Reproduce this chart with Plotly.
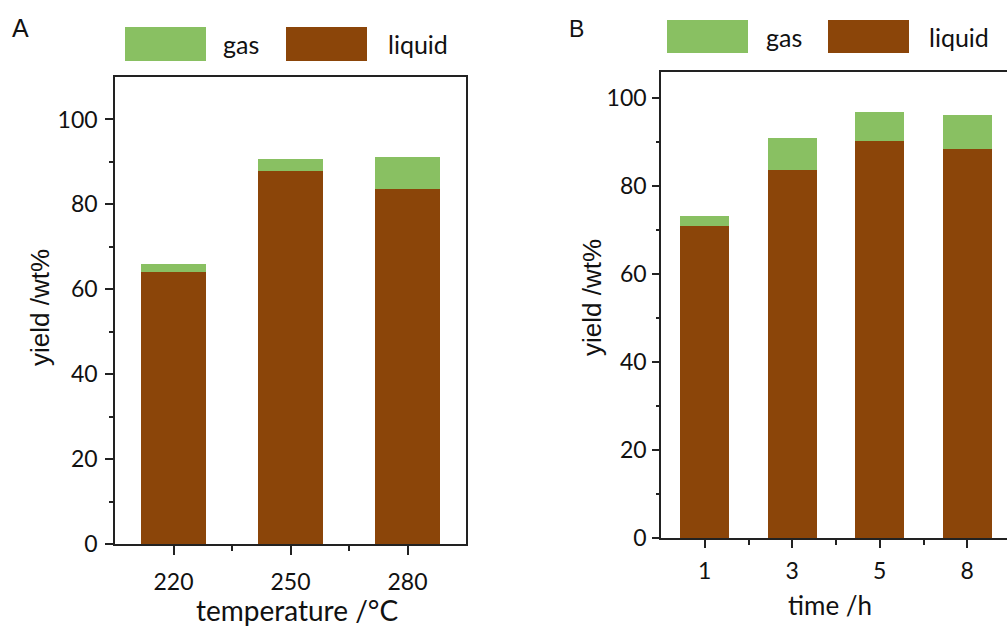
import plotly.graph_objects as go

# ---------------- data ----------------
temp_categories = ["220", "250", "280"]
temp_liquid = [64.1, 87.8, 83.7]
temp_gas = [1.9, 2.8, 7.5]

time_categories = ["1", "3", "5", "8"]
time_liquid = [71.0, 83.7, 90.3, 88.4]
time_gas = [2.2, 7.4, 6.6, 7.9]

gas_color = "#89C062"
liquid_color = "#8B4509"

W, H = 1007, 628
def px(x):
    return x / W
def py(y):
    return 1 - y / H

TICK_FONT = dict(family="Lato", size=23, color="#111")
AX = "#222"

fig = go.Figure()

# Panel A
fig.add_trace(go.Bar(x=list(range(len(temp_categories))), y=temp_liquid, marker_color=liquid_color,
                     width=0.56, name="liquid", showlegend=False, xaxis="x", yaxis="y",
                     marker_line_width=0))
fig.add_trace(go.Bar(x=list(range(len(temp_categories))), y=temp_gas, marker_color=gas_color,
                     width=0.56, name="gas", showlegend=False, xaxis="x", yaxis="y",
                     marker_line_width=0))
# Panel B
fig.add_trace(go.Bar(x=list(range(len(time_categories))), y=time_liquid, marker_color=liquid_color,
                     width=0.56, name="liquid", showlegend=False, xaxis="x2", yaxis="y2",
                     marker_line_width=0))
fig.add_trace(go.Bar(x=list(range(len(time_categories))), y=time_gas, marker_color=gas_color,
                     width=0.56, name="gas", showlegend=False, xaxis="x2", yaxis="y2",
                     marker_line_width=0))

common_axis = dict(showgrid=False, zeroline=False, showline=True, linecolor=AX, linewidth=1.5,
                   ticks="outside", tickcolor=AX, tickwidth=1.5, tickfont=TICK_FONT,
                   automargin=False)

fig.update_layout(
    width=W, height=H,
    margin=dict(l=0, r=0, t=0, b=0, autoexpand=False),
    paper_bgcolor="white", plot_bgcolor="white",
    barmode="stack",
    xaxis=dict(**common_axis, domain=[px(115), px(466)], range=[-0.5, 2.5], anchor="y",
               tickvals=list(range(len(temp_categories))), ticktext=temp_categories,
               ticklen=9, mirror=True, ticklabelstandoff=8,
               minor=dict(tickvals=[0.5, 1.5], ticklen=5, ticks="outside", tickcolor=AX, tickwidth=1.5)),
    yaxis=dict(**common_axis, domain=[py(544), py(77)], range=[0, 110], anchor="x",
               tickvals=[0, 20, 40, 60, 80, 100], ticklen=8, mirror=True, ticklabelstandoff=3,
               minor=dict(tickvals=[10, 30, 50, 70, 90], ticklen=4, ticks="outside", tickcolor=AX, tickwidth=1.5)),
    xaxis2=dict(**common_axis, domain=[px(661), 1.0], range=[-0.5, 3.454], anchor="y2",
                tickvals=list(range(len(time_categories))), ticktext=time_categories,
                ticklen=8, mirror=True, ticklabelstandoff=4,
                minor=dict(tickvals=[0.5, 1.5, 2.5], ticklen=5, ticks="outside", tickcolor=AX, tickwidth=1.5)),
    yaxis2=dict(**common_axis, domain=[py(538), py(72)], range=[0, 106], anchor="x2",
                tickvals=[0, 20, 40, 60, 80, 100], ticklen=7, mirror=False, ticklabelstandoff=1,
                minor=dict(tickvals=[10, 30, 50, 70, 90], ticklen=3, ticks="outside", tickcolor=AX, tickwidth=1.5)),
)

shapes = []
annotations = []

def legend(gx0, gx1, gas_tx, bx0, bx1, liq_tx, y0, y1):
    shapes.append(dict(type="rect", xref="paper", yref="paper", x0=px(gx0), x1=px(gx1),
                       y0=py(y1), y1=py(y0), fillcolor=gas_color, line_width=0))
    shapes.append(dict(type="rect", xref="paper", yref="paper", x0=px(bx0), x1=px(bx1),
                       y0=py(y1), y1=py(y0), fillcolor=liquid_color, line_width=0))
    ym = (y0 + y1) / 2
    annotations.append(dict(text="gas", xref="paper", yref="paper", x=px(gas_tx), y=py(ym),
                            xanchor="left", yanchor="middle", showarrow=False,
                            font=dict(family="Lato", size=25, color="#111")))
    annotations.append(dict(text="liquid", xref="paper", yref="paper", x=px(liq_tx), y=py(ym),
                            xanchor="left", yanchor="middle", showarrow=False,
                            font=dict(family="Lato", size=25, color="#111")))

legend(125, 206, 221, 286, 367, 386, 27, 61)
legend(667, 748, 764, 828, 909, 927, 20, 53)

# panel labels
annotations.append(dict(text="A", xref="paper", yref="paper", x=px(10), y=py(28), xanchor="left",
                        yanchor="middle", showarrow=False,
                        font=dict(family="Liberation Sans", size=25, color="#111")))
annotations.append(dict(text="B", xref="paper", yref="paper", x=px(567), y=py(29), xanchor="left",
                        yanchor="middle", showarrow=False,
                        font=dict(family="Liberation Sans", size=23, color="#111")))

# axis titles
annotations.append(dict(text="temperature /°C", xref="paper", yref="paper", x=px(297), y=py(610),
                        xanchor="center", yanchor="middle", showarrow=False,
                        font=dict(family="Lato", size=28, color="#111")))
annotations.append(dict(text="time /h", xref="paper", yref="paper", x=px(830), y=py(605),
                        xanchor="center", yanchor="middle", showarrow=False,
                        font=dict(family="Lato", size=26, color="#111")))
annotations.append(dict(text="yield /wt%", xref="paper", yref="paper", x=px(40), y=py(308),
                        xanchor="center", yanchor="middle", showarrow=False, textangle=-90,
                        font=dict(family="Liberation Sans", size=26, color="#111")))
annotations.append(dict(text="yield /wt%", xref="paper", yref="paper", x=px(592), y=py(298),
                        xanchor="center", yanchor="middle", showarrow=False, textangle=-90,
                        font=dict(family="Liberation Sans", size=26, color="#111")))

fig.update_layout(shapes=shapes, annotations=annotations)
fig.write_html("out.html")
